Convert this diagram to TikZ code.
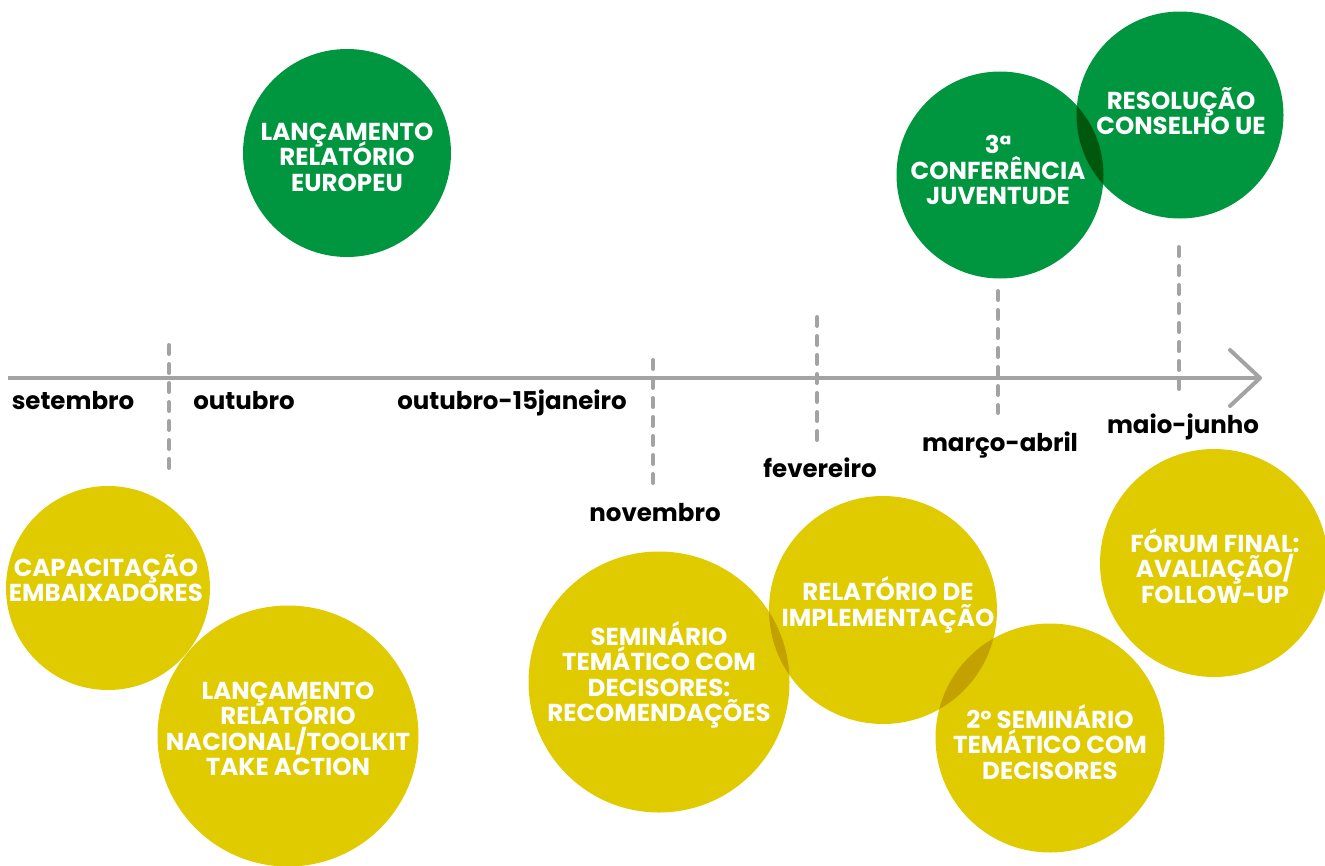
\documentclass[tikz,border=0pt]{standalone}
\usepackage{fontspec}
\setmainfont{Poppins}
\usetikzlibrary{positioning,arrows.meta}
\definecolor{bGreen}{HTML}{00963F}
\definecolor{bYellow}{HTML}{DFCB00}
\definecolor{bGray}{HTML}{A3A3A3}
\newcommand\balltextfont{\fontsize{24.5}{25.5}\selectfont\bfseries\lineskiplimit=-30pt\relax}

\begin{document}
\begin{tikzpicture}[
            x=1pt, y=-1pt,
            ball/.style={
                circle,
                inner sep=0pt,
                draw=none,
                minimum size=#1
            },
            greenball/.style={ball=#1, fill=bGreen},
            yellowball/.style={ball=#1, fill=bYellow},
            balltext/.style={
                align=center,
                text=white,
                font=\balltextfont
            },
            month/.style={
                anchor=base,
                font=\fontsize{24.5}{25}\selectfont\bfseries
            },
            axis/.style={
                draw=bGray,
                line width=4pt,
                -{Straight Barb[length=30pt,width=56pt,round]}
            },
            tick/.style={
                draw=bGray,
                line width=4pt,
                line cap=round,
                dash pattern=on 9pt off 10pt
            }
        ]
            \useasboundingbox (0,0) rectangle (1325,865);

            % circles, overlaps darkened
            \begin{scope}[blend group=multiply]
                \node (europeu) [greenball=208pt] at (347,153) {};
                \node (conferencia) [greenball=207pt] at (1000,175) {};
                \node (resolucao) [greenball=207pt] at (1180,115) {};
                \node (capacitacao) [yellowball=204pt] at (108,588) {};
                \node (nacional) [yellowball=261pt] at (288,736) {};
                \node (seminario) [yellowball=261pt] at (659,682) {};
                \node (implementacao) [yellowball=228pt] at (883,610) {};
                \node (segundo) [yellowball=229pt] at (1050,738) {};
                \node (forum) [yellowball=228pt] at (1214,563) {};
            \end{scope}

            % timeline
            \coordinate (axisstart) at (8,378);
            \coordinate (axisend) at (1262,378);
            \draw[axis] (axisstart) -- (axisend);

            \foreach \x/\ya/\yb [count=\i] in {169/345/468, 653/360/483, 817/317/440, 998/291/413, 1179/247/397} {
                \coordinate (tick\i top) at (\x,\ya);
                \coordinate (tick\i bottom) at (\x,\yb);
                \draw[tick] (tick\i top) -- (tick\i bottom);
            }

            % months
            \node (setembro) [month] at (73,409) {setembro};
            \node (outubro) [month] at (244,409) {outubro};
            \node (janeiro) [month] at (512,409) {outubro-15janeiro};
            \node (novembro) [month] at (655,521) {novembro};
            \node (fevereiro) [month] at (820,477) {fevereiro};
            \node (marco) [month] at (1000,451) {março-abril};
            \node (maio) [month] at (1183,433) {maio-junho};

            % texts in the circles
            \node (europeutxt) [balltext] at (347,157) {LANÇAMENTO\\RELATÓRIO\\EUROPEU};
            \node (conferenciatxt) [balltext] at (998,170) {3ª\\CONFERÊNCIA\\JUVENTUDE};
            \node (resolucaotxt) [balltext] at (1181,111) {RESOLUÇÃO\\CONSELHO UE};
            \node (capacitacaotxt) [balltext] at (106,578) {CAPACITAÇÃO\\EMBAIXADORES};
            \node (nacionaltxt) [balltext] at (288,729) {LANÇAMENTO\\RELATÓRIO\\NACIONAL/TOOLKIT\\TAKE ACTION};
            \node (seminariotxt) [balltext] at (659,675) {SEMINÁRIO\\TEMÁTICO COM\\DECISORES:\\RECOMENDAÇÕES};
            \node (implementacaotxt) [balltext] at (888,605) {RELATÓRIO DE\\IMPLEMENTAÇÃO};
            \node (segundotxt) [balltext] at (1050,742) {2º SEMINÁRIO\\TEMÁTICO COM\\DECISORES};
            \node (forumtxt) [balltext] at (1215,566) {FÓRUM FINAL:\\AVALIAÇÃO/\\FOLLOW-UP};
        \end{tikzpicture}
\end{document}
